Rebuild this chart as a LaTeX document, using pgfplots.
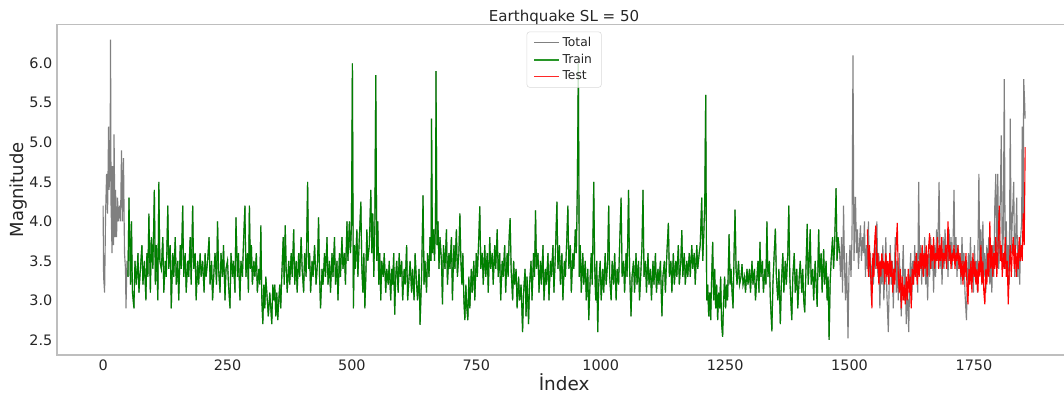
\documentclass[border=0pt]{standalone}
\usepackage{pgfplots}
\usepackage{pgfplotstable}
\usepackage{fontspec}
\setmainfont{DejaVu Sans}
\pgfplotsset{compat=1.18}
\definecolor{cgray}{RGB}{128,128,128}
\definecolor{cgreen}{RGB}{0,128,0}
\definecolor{lgreen}{RGB}{40,150,40}
\definecolor{cred}{RGB}{255,0,0}
\definecolor{lred}{RGB}{255,40,40}
\definecolor{spine}{RGB}{190,190,190}

\pgfplotstableread[row sep=\\]{
x y\\
0 4.2\\ 1 3.3\\ 3 3.1\\ 5 4.1\\ 7 4.6\\ 9 4.1\\ 11 5.2\\ 12 4.4\\ 14 4.7\\ 15 6.3\\ 16 4.2\\ 18 3.6\\ 19 4.7\\ 21 3.7\\ 22 5.1\\ 24 3.8\\ 25 4.4\\ 27 3.8\\ 29 4.3\\ 31 4.0\\ 33 4.2\\ 35 4.0\\ 37 4.9\\ 39 4.0\\ 41 4.8\\ 43 3.6\\ 45 3.4\\ 46 2.9\\ 48 3.5\\ 50 3.3\\
52 4.3\\ 55 3.2\\ 57 4.0\\ 59 3.1\\ 62 2.9\\ 64 3.5\\ 67 3.2\\ 70 3.6\\ 72 3.1\\ 75 3.4\\ 78 3.7\\ 80 3.2\\ 83 3.5\\ 86 3.0\\ 88 3.6\\ 90 3.3\\ 92 4.1\\ 95 3.1\\ 97 3.8\\ 100 3.4\\ 103 4.4\\ 105 3.2\\ 107 3.7\\ 110 3.0\\ 112 4.5\\ 114 3.5\\ 117 3.4\\ 120 3.8\\ 122 3.1\\ 125 3.5\\ 127 3.3\\ 130 4.2\\ 132 3.4\\ 135 3.7\\ 137 2.9\\ 140 3.6\\ 142 3.3\\ 145 3.8\\ 147 3.2\\ 150 3.5\\ 152 3.0\\ 155 3.7\\ 157 3.4\\ 160 4.2\\ 162 3.3\\ 165 3.6\\ 167 3.1\\ 170 3.5\\ 172 3.3\\ 175 3.8\\ 177 3.2\\ 180 4.2\\ 182 3.4\\ 185 3.6\\ 187 3.0\\ 190 3.5\\ 192 3.2\\ 195 3.6\\ 197 3.3\\ 200 3.5\\
203 3.1\\ 205 3.6\\ 207 3.3\\ 210 3.5\\ 213 3.8\\ 215 3.2\\ 218 3.5\\ 220 3.0\\ 223 3.4\\ 225 3.6\\ 228 3.2\\ 230 4.0\\ 232 3.4\\ 235 3.1\\ 237 3.6\\ 240 3.3\\ 242 3.7\\ 245 3.0\\ 247 3.4\\ 250 3.5\\ 252 3.2\\ 255 2.9\\ 257 3.6\\ 260 3.3\\ 262 3.5\\ 265 3.1\\ 267 4.05\\ 270 3.3\\ 272 3.6\\ 275 3.0\\ 277 3.5\\ 280 3.3\\ 282 3.7\\ 285 4.2\\ 287 3.3\\ 290 3.6\\ 292 3.1\\ 294 4.2\\ 296 3.4\\ 298 3.7\\ 300 3.2\\ 303 3.5\\ 305 3.3\\ 308 3.6\\ 310 3.1\\ 313 3.4\\ 315 3.2\\ 317 3.95\\ 319 3.0\\ 321 2.7\\ 323 3.2\\ 325 2.9\\ 327 3.3\\ 330 3.0\\ 332 2.8\\ 335 3.1\\ 337 2.9\\ 339 2.7\\ 341 3.2\\ 343 3.0\\ 345 3.2\\ 347 2.8\\ 349 3.1\\ 351 2.75\\ 353 3.0\\ 355 3.2\\ 357 2.9\\ 359 3.3\\ 362 3.8\\ 364 3.2\\ 366 3.95\\ 368 3.4\\ 370 3.1\\ 373 3.5\\ 375 3.2\\ 378 3.6\\ 380 3.3\\ 383 3.9\\ 385 3.2\\ 388 3.5\\ 390 3.1\\ 393 3.6\\ 395 3.3\\ 398 3.8\\ 400 3.4\\
403 3.1\\ 405 3.6\\ 408 3.3\\ 411 4.5\\ 413 3.4\\ 415 3.6\\ 417 3.1\\ 420 3.5\\ 422 3.3\\ 425 3.7\\ 428 3.2\\ 431 3.5\\ 433 4.05\\ 435 3.3\\ 437 2.9\\ 440 3.4\\ 442 3.2\\ 445 3.6\\ 447 3.3\\ 450 3.8\\ 452 3.2\\ 455 3.5\\ 457 3.1\\ 460 3.6\\ 462 3.3\\ 465 3.8\\ 467 3.2\\ 470 3.5\\ 472 3.0\\ 475 3.6\\ 477 3.3\\ 480 3.8\\ 482 3.4\\ 485 3.6\\ 487 3.2\\ 490 4.0\\ 492 3.5\\ 495 4.0\\ 497 3.6\\ 499 3.9\\ 501 6.0\\ 503 2.9\\ 505 3.7\\ 507 3.4\\ 510 3.9\\ 512 3.3\\ 515 3.8\\ 518 4.25\\ 520 3.4\\ 522 3.1\\ 524 3.6\\ 526 2.9\\ 528 3.3\\ 530 3.9\\ 532 3.5\\ 535 3.7\\ 538 4.4\\ 540 3.6\\ 542 4.1\\ 544 3.3\\ 546 3.9\\ 548 5.85\\ 550 3.5\\ 552 4.0\\ 554 3.2\\ 556 3.6\\ 558 3.0\\ 560 3.5\\ 563 3.3\\ 565 3.6\\ 568 3.1\\ 570 3.4\\ 573 3.2\\ 575 3.5\\ 578 3.0\\ 580 3.4\\ 582 3.2\\ 584 3.6\\ 586 2.82\\ 588 3.3\\ 590 3.5\\ 593 3.1\\ 595 3.6\\ 597 3.3\\ 600 3.5\\
602 3.0\\ 605 3.4\\ 607 3.2\\ 610 3.7\\ 612 3.0\\ 615 3.3\\ 617 3.5\\ 620 3.1\\ 622 3.4\\ 625 3.0\\ 627 3.6\\ 630 3.2\\ 632 3.0\\ 635 3.4\\ 637 2.69\\ 640 3.3\\ 643 4.33\\ 645 3.2\\ 647 3.5\\ 650 3.1\\ 652 3.6\\ 655 3.3\\ 657 3.8\\ 659 3.5\\ 660 5.3\\ 662 3.6\\ 664 3.9\\ 666 3.5\\ 668 4.0\\ 669 5.9\\ 671 3.7\\ 673 4.0\\ 675 3.4\\ 677 3.8\\ 680 3.5\\ 682 2.95\\ 684 3.7\\ 687 3.4\\ 690 3.9\\ 692 3.2\\ 695 3.6\\ 697 3.4\\ 700 3.8\\ 702 3.0\\ 705 3.7\\ 707 3.4\\ 710 3.9\\ 712 3.3\\ 715 3.6\\ 717 4.1\\ 719 3.5\\ 721 3.2\\ 723 3.6\\ 725 3.0\\ 727 2.75\\ 729 3.2\\ 731 2.9\\ 733 2.75\\ 735 3.3\\ 737 2.9\\ 740 3.4\\ 742 3.1\\ 745 3.5\\ 747 3.0\\ 750 3.6\\ 752 3.3\\ 755 3.8\\ 757 4.19\\ 759 3.4\\ 762 3.6\\ 764 3.2\\ 767 3.7\\ 769 3.3\\ 772 3.6\\ 774 3.1\\ 777 3.8\\ 779 3.4\\ 782 3.6\\ 784 3.2\\ 787 3.7\\ 789 3.4\\ 792 3.9\\ 794 3.3\\ 797 3.6\\ 799 3.0\\
802 3.5\\ 804 3.3\\ 807 3.7\\ 809 3.1\\ 812 3.6\\ 814 3.3\\ 816 3.8\\ 818 4.04\\ 820 3.4\\ 823 3.0\\ 825 3.5\\ 827 3.2\\ 830 3.4\\ 832 2.9\\ 835 3.3\\ 837 3.0\\ 840 3.2\\ 843 2.6\\ 845 3.1\\ 848 3.4\\ 850 2.8\\ 852 3.3\\ 855 2.7\\ 857 3.2\\ 860 3.5\\ 862 3.0\\ 865 3.6\\ 867 3.3\\ 869 4.14\\ 871 3.4\\ 874 3.6\\ 876 3.1\\ 879 3.5\\ 881 3.2\\ 884 3.7\\ 886 3.0\\ 889 3.4\\ 891 3.2\\ 894 3.6\\ 896 3.0\\ 899 3.5\\ 901 3.3\\ 904 3.7\\ 906 3.1\\ 909 3.6\\ 912 4.25\\ 914 3.4\\ 917 3.7\\ 919 3.2\\ 922 3.6\\ 924 3.0\\ 927 3.5\\ 929 3.3\\ 932 3.8\\ 934 4.2\\ 936 3.4\\ 939 3.7\\ 941 3.1\\ 944 3.6\\ 946 3.4\\ 949 3.9\\ 951 3.6\\ 953 4.4\\ 955 6.0\\ 957 3.3\\ 959 3.7\\ 961 3.1\\ 964 3.6\\ 966 3.2\\ 969 3.5\\ 971 3.0\\ 974 3.4\\ 976 2.75\\ 979 3.3\\ 981 3.6\\ 983 3.2\\ 986 4.5\\ 988 3.4\\ 990 3.0\\ 992 3.5\\ 994 2.6\\ 996 3.2\\ 999 3.5\\
1001 3.0\\ 1004 3.4\\ 1006 3.1\\ 1009 3.6\\ 1011 3.2\\ 1014 3.5\\ 1016 4.2\\ 1018 3.3\\ 1021 3.0\\ 1023 3.5\\ 1026 3.2\\ 1028 3.6\\ 1031 3.0\\ 1033 3.4\\ 1036 3.2\\ 1038 3.7\\ 1041 4.3\\ 1043 3.3\\ 1046 3.5\\ 1048 3.1\\ 1051 3.6\\ 1053 3.3\\ 1056 4.4\\ 1058 3.4\\ 1061 2.8\\ 1063 3.3\\ 1066 3.5\\ 1068 3.1\\ 1071 3.6\\ 1073 3.2\\ 1076 3.5\\ 1078 3.0\\ 1081 3.4\\ 1083 3.7\\ 1085 4.4\\ 1087 3.3\\ 1090 3.5\\ 1092 3.1\\ 1095 3.6\\ 1097 3.2\\ 1100 3.4\\ 1102 3.0\\ 1105 3.5\\ 1107 3.2\\ 1110 3.6\\ 1112 3.1\\ 1115 3.4\\ 1117 3.2\\ 1120 3.5\\ 1123 2.8\\ 1125 3.3\\ 1128 3.5\\ 1130 3.1\\ 1133 3.6\\ 1136 3.98\\ 1138 3.3\\ 1141 3.5\\ 1143 3.1\\ 1146 3.6\\ 1148 3.2\\ 1151 3.5\\ 1153 3.3\\ 1156 3.7\\ 1158 3.2\\ 1161 3.5\\ 1163 3.89\\ 1165 3.3\\ 1168 3.6\\ 1170 3.2\\ 1173 3.5\\ 1175 3.3\\ 1178 3.6\\ 1180 3.3\\ 1183 3.7\\ 1185 3.4\\ 1188 3.6\\ 1190 3.2\\ 1193 3.7\\ 1195 3.4\\ 1198 3.6\\
1200 3.7\\ 1203 4.3\\ 1205 3.5\\ 1207 3.8\\ 1209 4.2\\ 1211 5.6\\ 1213 3.0\\ 1215 3.2\\ 1217 2.8\\ 1219 3.1\\ 1221 2.75\\ 1223 3.3\\ 1225 3.74\\ 1227 3.0\\ 1229 3.4\\ 1231 2.9\\ 1233 3.2\\ 1235 2.75\\ 1237 3.1\\ 1239 2.9\\ 1241 3.3\\ 1243 2.7\\ 1245 2.54\\ 1247 3.0\\ 1249 3.3\\ 1251 2.9\\ 1253 3.2\\ 1255 3.0\\ 1258 3.84\\ 1260 3.2\\ 1262 3.4\\ 1264 3.1\\ 1266 2.9\\ 1268 3.6\\ 1270 4.15\\ 1272 3.4\\ 1274 3.2\\ 1277 3.5\\ 1279 3.2\\ 1282 3.3\\ 1284 3.46\\ 1286 3.2\\ 1289 3.3\\ 1291 3.1\\ 1294 3.4\\ 1296 3.2\\ 1299 3.4\\ 1301 3.1\\ 1304 3.5\\ 1306 3.2\\ 1309 3.4\\ 1311 3.0\\ 1314 3.3\\ 1316 3.5\\ 1318 3.1\\ 1320 3.74\\ 1322 3.3\\ 1325 3.5\\ 1327 3.1\\ 1330 3.4\\ 1332 3.2\\ 1334 4.0\\ 1336 3.3\\ 1339 3.5\\ 1341 3.0\\ 1344 2.61\\ 1346 3.2\\ 1348 3.5\\ 1351 3.91\\ 1353 3.3\\ 1356 3.0\\ 1358 3.4\\ 1361 2.7\\ 1363 3.2\\ 1366 3.6\\ 1368 3.1\\ 1371 3.5\\ 1373 3.2\\ 1376 3.6\\ 1378 4.2\\ 1380 3.3\\ 1382 3.0\\ 1384 2.75\\ 1386 3.3\\ 1389 3.6\\ 1391 3.1\\ 1394 3.4\\ 1396 2.9\\ 1399 3.3\\
1401 3.5\\ 1404 3.1\\ 1406 3.4\\ 1408 3.0\\ 1410 2.85\\ 1412 3.3\\ 1415 3.97\\ 1417 3.2\\ 1419 3.5\\ 1421 3.9\\ 1423 3.2\\ 1426 3.4\\ 1428 3.0\\ 1431 3.5\\ 1433 3.2\\ 1435 2.92\\ 1438 3.9\\ 1440 3.3\\ 1443 3.6\\ 1445 3.1\\ 1448 3.65\\ 1450 3.2\\ 1453 3.5\\ 1455 3.0\\ 1457 3.3\\ 1459 2.5\\ 1461 3.2\\ 1463 3.5\\ 1466 3.8\\ 1468 3.4\\ 1470 3.7\\ 1473 4.42\\ 1475 3.5\\ 1477 3.8\\ 1480 3.6\\
1482 3.3\\ 1484 3.8\\ 1486 3.1\\ 1488 4.2\\ 1490 3.4\\ 1492 3.0\\ 1494 3.6\\ 1497 2.52\\ 1499 3.4\\ 1501 3.7\\ 1503 3.3\\ 1505 3.8\\ 1507 6.1\\ 1509 3.5\\ 1512 4.31\\ 1514 3.6\\ 1516 3.9\\ 1518 3.4\\ 1520 3.7\\ 1522 3.95\\ 1524 3.5\\ 1526 3.8\\ 1528 3.6\\ 1530 4.0\\ 1532 3.3\\ 1534 3.7\\
1536 3.4\\ 1538 4.0\\ 1540 3.3\\ 1542 3.6\\ 1544 3.0\\ 1546 3.5\\ 1548 3.2\\ 1550 3.7\\ 1552 3.4\\ 1555 4.0\\ 1557 3.3\\ 1559 3.6\\ 1561 2.9\\ 1563 3.5\\ 1565 3.2\\ 1567 3.7\\ 1569 3.0\\ 1571 3.4\\ 1573 3.8\\ 1575 3.1\\ 1578 2.6\\ 1580 3.3\\ 1582 3.7\\ 1584 3.2\\ 1586 3.5\\ 1588 2.9\\ 1590 3.4\\ 1592 3.8\\ 1594 3.1\\ 1596 3.5\\ 1598 3.0\\ 1600 3.6\\ 1602 3.2\\ 1604 2.8\\ 1606 3.3\\ 1608 3.7\\ 1610 3.0\\ 1612 3.4\\ 1614 2.7\\ 1616 3.2\\ 1619 2.6\\ 1621 3.3\\ 1623 3.6\\ 1625 3.0\\ 1627 3.5\\ 1629 3.2\\ 1631 3.7\\ 1633 3.3\\ 1635 3.6\\ 1637 3.1\\ 1639 4.5\\ 1641 3.4\\ 1643 3.7\\ 1645 3.2\\ 1647 3.6\\ 1649 3.3\\ 1651 3.8\\ 1653 3.2\\ 1655 3.5\\ 1657 3.0\\ 1659 3.6\\ 1661 3.3\\ 1663 3.8\\ 1665 3.4\\ 1667 3.6\\ 1669 3.1\\ 1671 3.7\\ 1673 3.3\\ 1675 3.9\\ 1677 3.5\\ 1680 4.5\\ 1682 3.4\\ 1684 3.7\\ 1686 3.2\\ 1688 3.8\\ 1690 3.4\\ 1692 3.9\\ 1694 3.5\\ 1696 3.7\\ 1698 3.3\\ 1700 3.9\\
1702 3.5\\ 1704 3.8\\ 1706 3.4\\ 1708 3.7\\ 1710 4.4\\ 1712 3.5\\ 1714 3.8\\ 1716 3.3\\ 1718 3.7\\ 1720 3.4\\ 1722 3.6\\ 1724 3.2\\ 1726 3.8\\ 1728 3.4\\ 1730 3.6\\ 1732 3.1\\ 1735 2.75\\ 1737 3.3\\ 1739 3.6\\ 1741 3.2\\ 1743 3.8\\ 1745 3.3\\ 1747 3.5\\ 1749 3.1\\ 1751 3.7\\ 1753 3.3\\ 1755 3.5\\ 1757 3.1\\ 1760 4.6\\ 1762 3.4\\ 1764 3.9\\ 1766 3.2\\ 1768 4.0\\ 1770 3.3\\ 1772 3.6\\ 1774 3.1\\ 1776 3.7\\ 1778 3.3\\ 1780 3.8\\ 1782 3.2\\ 1784 3.5\\ 1786 3.1\\ 1788 3.7\\ 1790 3.3\\ 1792 4.2\\ 1794 4.6\\ 1796 3.5\\ 1798 4.6\\ 1800 3.4\\ 1802 3.9\\ 1805 5.09\\ 1807 3.5\\ 1809 3.8\\ 1811 5.8\\ 1813 3.4\\ 1815 4.0\\ 1817 3.3\\ 1819 3.7\\ 1821 3.2\\ 1823 5.3\\ 1825 3.6\\ 1827 4.0\\ 1830 4.5\\ 1832 3.3\\ 1834 3.8\\ 1836 4.3\\ 1838 3.3\\ 1840 3.7\\ 1842 3.2\\ 1844 3.8\\ 1846 4.0\\ 1847 5.2\\ 1849 3.9\\ 1850 5.8\\ 1852 5.5\\ 1853 5.3\\
}\totaltable

\pgfplotstableread[row sep=\\]{
x y\\
1536 3.9\\ 1538 3.3\\ 1540 3.7\\ 1542 3.4\\ 1544 3.1\\ 1545 2.9\\ 1547 3.6\\ 1549 3.3\\ 1551 3.8\\ 1553 3.95\\ 1555 3.4\\ 1557 3.6\\ 1559 3.2\\ 1561 3.5\\ 1563 3.3\\ 1565 3.6\\ 1567 3.4\\ 1569 3.5\\ 1571 3.2\\ 1573 3.6\\ 1575 3.3\\ 1577 3.5\\ 1579 3.2\\ 1581 3.6\\ 1583 3.3\\ 1585 3.5\\ 1587 3.1\\ 1589 3.4\\ 1591 3.2\\ 1593 3.6\\ 1596 3.98\\ 1598 3.3\\ 1600 3.1\\ 1602 3.4\\ 1604 2.9\\ 1606 3.3\\ 1608 3.0\\ 1610 3.2\\ 1612 2.95\\ 1614 3.3\\ 1616 3.0\\ 1618 3.4\\ 1620 3.1\\ 1622 3.3\\ 1624 2.9\\ 1626 3.4\\ 1628 3.2\\ 1630 3.5\\ 1632 3.3\\ 1634 3.6\\ 1636 3.2\\ 1638 3.5\\ 1640 3.3\\ 1642 3.6\\ 1644 3.4\\ 1646 3.7\\ 1648 3.3\\ 1650 3.6\\ 1652 3.4\\ 1654 3.7\\ 1656 3.3\\ 1658 3.6\\ 1661 3.85\\ 1663 3.4\\ 1665 3.7\\ 1667 3.5\\ 1669 3.8\\ 1671 3.4\\ 1673 3.6\\ 1675 3.5\\ 1677 3.8\\ 1679 3.4\\ 1681 3.7\\ 1683 3.5\\ 1685 3.8\\ 1687 3.4\\ 1689 3.6\\ 1691 3.5\\ 1693 3.7\\ 1695 3.4\\ 1698 4.0\\ 1700 3.5\\
1702 3.7\\ 1704 3.4\\ 1706 3.6\\ 1708 3.5\\ 1710 3.7\\ 1712 3.4\\ 1714 3.6\\ 1716 3.5\\ 1718 3.7\\ 1720 3.4\\ 1722 3.6\\ 1724 3.3\\ 1726 3.5\\ 1728 3.2\\ 1730 3.5\\ 1732 3.3\\ 1734 3.6\\ 1736 3.2\\ 1738 2.95\\ 1740 3.4\\ 1742 3.2\\ 1744 3.5\\ 1746 3.1\\ 1748 3.6\\ 1750 3.3\\ 1752 3.5\\ 1754 3.2\\ 1756 3.4\\ 1758 3.1\\ 1760 3.5\\ 1762 3.3\\ 1764 3.7\\ 1766 3.2\\ 1768 3.5\\ 1770 3.1\\ 1772 2.95\\ 1774 3.4\\ 1776 3.2\\ 1778 3.6\\ 1780 3.3\\ 1782 4.0\\ 1784 3.4\\ 1786 3.7\\ 1788 3.3\\ 1790 3.6\\ 1792 3.4\\ 1794 3.8\\ 1796 3.3\\ 1798 3.6\\ 1801 4.2\\ 1803 3.5\\ 1805 3.7\\ 1807 3.3\\ 1809 3.6\\ 1811 3.4\\ 1813 3.8\\ 1815 3.3\\ 1817 3.5\\ 1819 2.95\\ 1821 3.4\\ 1823 3.7\\ 1825 3.3\\ 1827 3.6\\ 1829 3.8\\ 1831 3.4\\ 1833 3.7\\ 1835 3.3\\ 1837 3.6\\ 1839 3.4\\ 1841 3.8\\ 1843 3.5\\ 1845 3.7\\ 1847 3.5\\ 1849 4.1\\ 1851 3.7\\ 1853 4.94\\
}\testtable

\begin{document}
\begin{tikzpicture}
\begin{axis}[
  name=ax,
  scale only axis,
  width=760.7pt, height=247.8pt,
  xmin=-92.65, xmax=1945.65,
  ymin=2.31, ymax=6.49,
  xtick={0,250,500,750,1000,1250,1500,1750},
  ytick={2.5,3.0,3.5,4.0,4.5,5.0,5.5,6.0},
  major tick length=0pt,
  axis line style={spine, line width=0.8pt},
  /pgf/number format/assume math mode=true,
  tick label style={font=\fontsize{10.8}{12}\selectfont, color=black!85},
  y tick label style={/pgf/number format/.cd, fixed, fixed zerofill, precision=1, /tikz/.cd},
  x tick label style={/pgf/number format/.cd, 1000 sep={}, /tikz/.cd},
  title={Earthquake SL = 50},
  title style={font=\fontsize{11.3}{13}\selectfont, color=black!85, at={(axis description cs:0.5,1)}, anchor=base, yshift=-3.5pt},
  xlabel={İndex},
  xlabel style={font=\fontsize{13.8}{16}\selectfont, color=black!85, at={(axis description cs:0.5,0)}, anchor=base, yshift=-26.25pt},
  ylabel={Magnitude},
  ylabel style={font=\fontsize{13.5}{16}\selectfont, color=black!85, at={(axis description cs:-0.0335,0.5)}, anchor=base},
  legend style={at={(axis description cs:0.5,1)}, anchor=north, yshift=-5.25pt,
    draw=black!15, rounded corners=2pt, fill=white, fill opacity=0.8, draw opacity=1, text opacity=1,
    font=\fontsize{9.2}{11}\selectfont, text=black!85, row sep=0.2pt, inner xsep=5pt, inner ysep=2pt},
  legend cell align=left,
  legend image code/.code={\draw[#1] (0pt,0pt) -- (18.5pt,0pt);},
]
\addplot[color=cgray, line width=0.85pt] table[x=x, y=y] {\totaltable};
\addlegendentry{Total}
\addlegendimage{color=lgreen, line width=1.2pt}
\addlegendentry{Train}
\addlegendimage{color=lred, line width=1.2pt}
\addlegendentry{Test}
\addplot[color=cgreen, line width=0.85pt, restrict x to domain=50:1480, forget plot] table[x=x, y=y] {\totaltable};
\addplot[color=cred, line width=0.85pt, forget plot] table[x=x, y=y] {\testtable};
\end{axis}
\pgfresetboundingbox
\useasboundingbox ([xshift=-42.75pt,yshift=-30.75pt]ax.south west) rectangle ++(798pt,297pt);
\end{tikzpicture}
\end{document}
